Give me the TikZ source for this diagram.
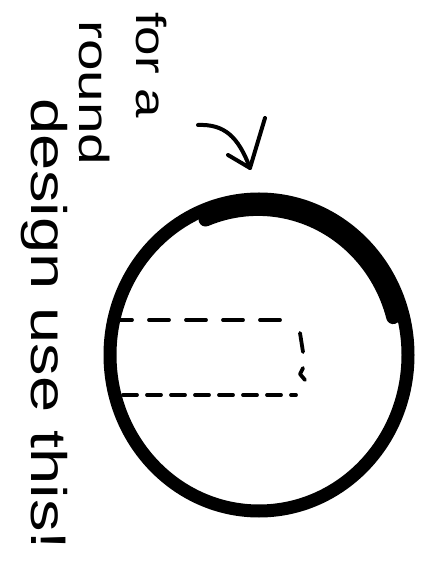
\documentclass[tikz,border=0pt]{standalone}
\usepackage{fontspec}
\setmainfont{Liberation Sans}
\begin{document}
\begin{tikzpicture}[x=1pt,y=1pt,
  ink/.style={line width=4pt, line cap=round, line join=round},
  dashink/.style={line width=3.8pt, line cap=round},
  hand/.style={inner sep=0pt, anchor=base west, rotate=-90}]
\useasboundingbox (0,0) rectangle (432,568);
% text (rotated, reading downward)
\node[hand] (t1) at (136,556) {\fontsize{42}{42}\selectfont\scalebox{1.26}[1]{for a}};
\node[hand] (t2) at (79,548) {\fontsize{42}{42}\selectfont\scalebox{1.35}[1]{round}};
\node[hand] (t3) at (31,470) {\fontsize{50}{50}\selectfont\scalebox{1.3}[1]{design use this!}};
% arrow
\coordinate (a0) at (198,443);
\coordinate (atip) at (250,400);
\coordinate (h1) at (265,450);
\coordinate (h2) at (228,413);
\draw[ink] (a0) .. controls (224,444) and (238,432) .. (atip);
\draw[ink] (h1) -- (atip) -- (h2);
% circle
\coordinate (c) at (259,213);
\draw[line width=13pt] (c) ellipse [x radius=149, y radius=156];
\draw[line width=14pt, line cap=round] (393.2,250.9) arc[start angle=15, end angle=112, x radius=140, y radius=146];
% dashed box
\coordinate (p1) at (112,248);
\coordinate (p2) at (293,248);
\coordinate (q1) at (123,173);
\coordinate (q2) at (296,173);
\draw[dashink, dash pattern=on 20pt off 17pt] (p1) -- (p2);
\draw[dashink, dash pattern=on 14pt off 10pt] (q1) -- (q2);
\coordinate (r1) at (300,235);
\coordinate (r2) at (303,216);
\coordinate (s1) at (303,200);
\coordinate (s2) at (300,194);
\coordinate (s3) at (305,188);
\draw[dashink] (r1) -- (r2);
\draw[dashink, line join=round] (s1) -- (s2) -- (s3);
\end{tikzpicture}
\end{document}
